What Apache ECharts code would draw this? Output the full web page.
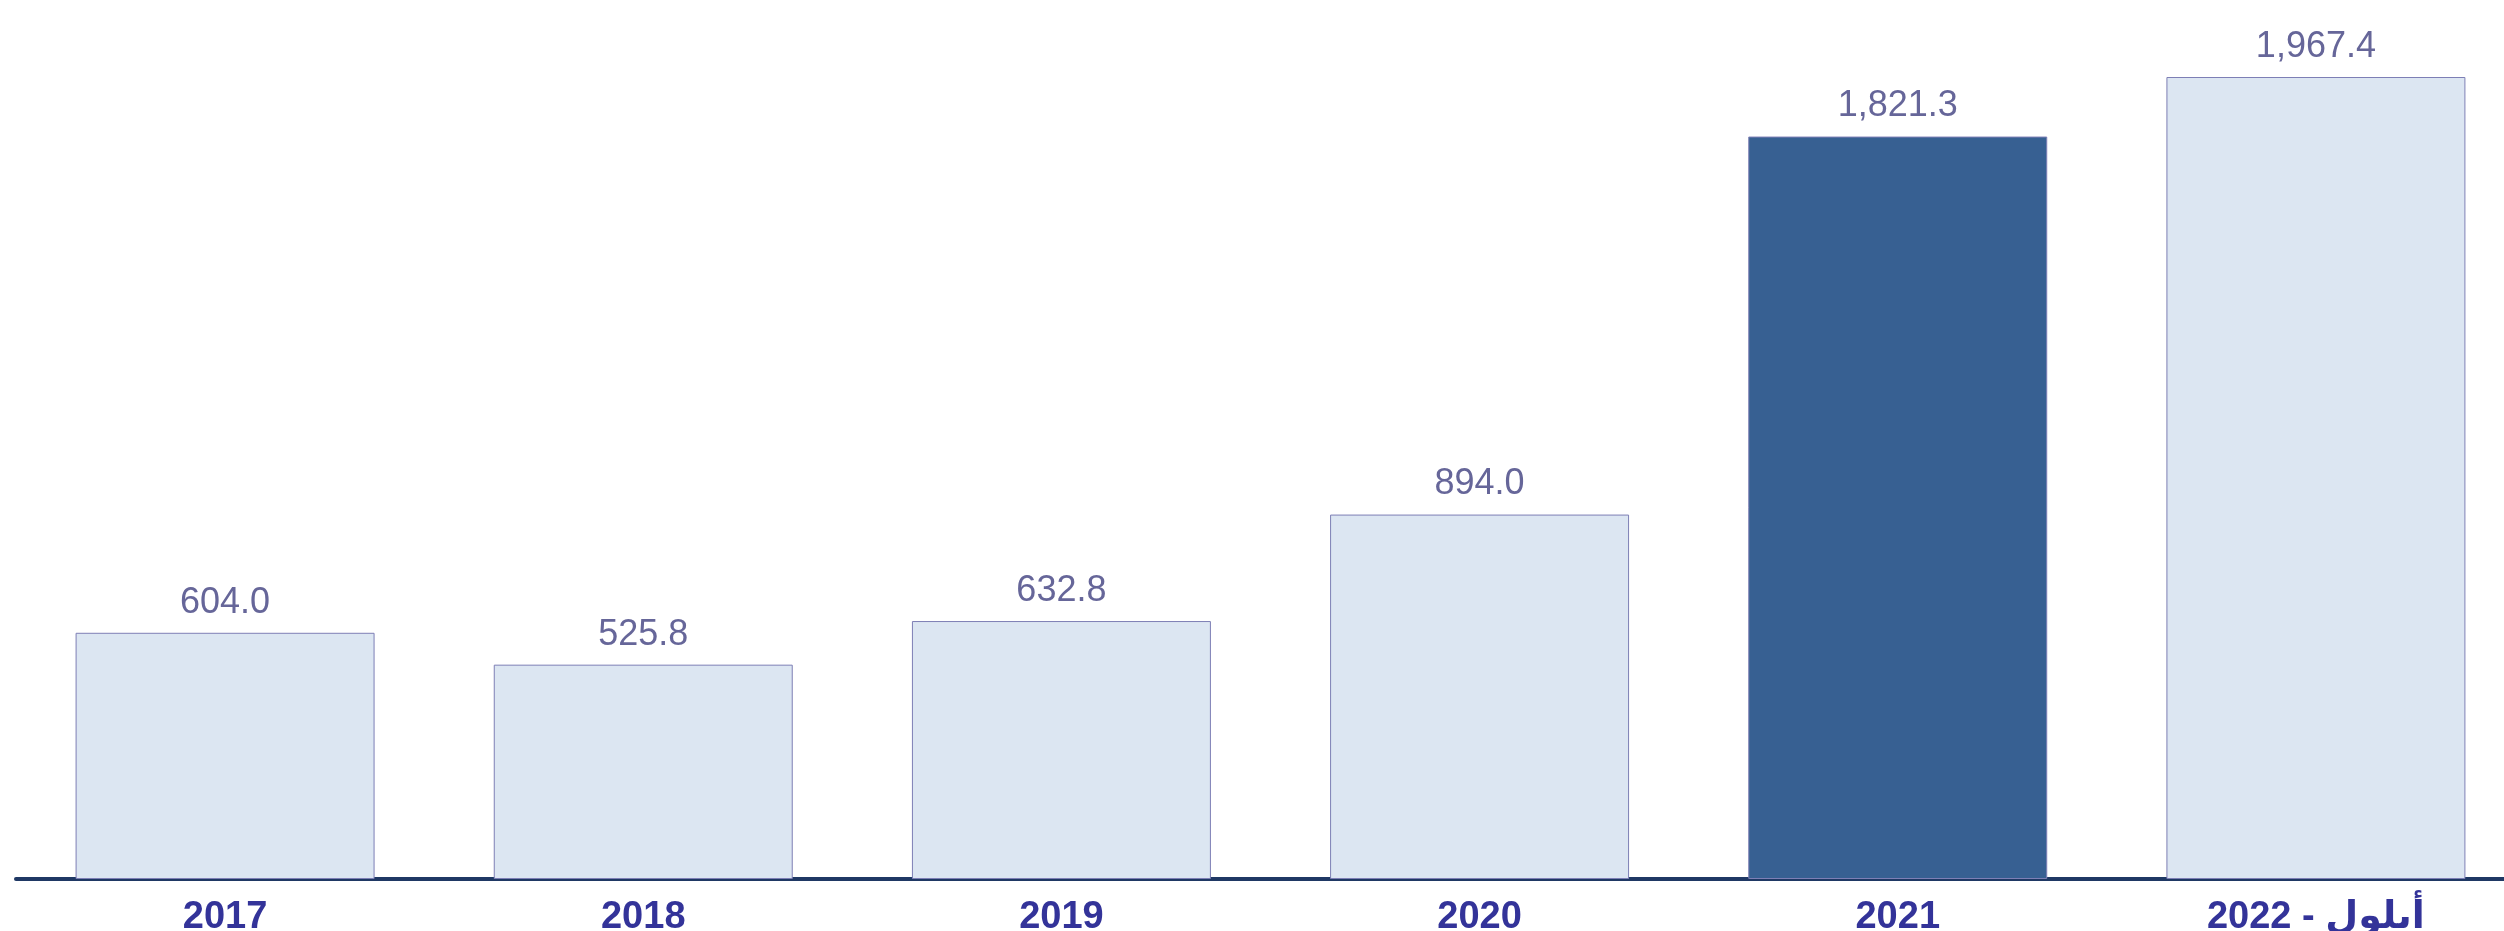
<!DOCTYPE html>
<html>
<head>
<meta charset="utf-8">
<script src="https://cdn.jsdelivr.net/npm/echarts@6/dist/echarts.min.js"></script>
<style>
  html, body { margin: 0; padding: 0; background: #ffffff; }
  #chart { width: 2504px; height: 931px; }
</style>
</head>
<body>
<div id="chart"></div>
<script>
  // Chart data
  const categories = ['2017', '2018', '2019', '2020', '2021', 'أيلول - 2022']
  const values = [604.0, 525.8, 632.8, 894.0, 1821.3, 1967.4]
  const highlightIndex = 4

  const fmtNumber = (n) => n.toLocaleString('en-US', { minimumFractionDigits: 1, maximumFractionDigits: 1 })

  const chart = echarts.init(document.getElementById('chart'), null, { renderer: 'canvas' })

  const option = {
    animation: false,
    backgroundColor: '#ffffff',
    // the last band runs a bit past the right edge in the original
    grid: { left: 16, top: 77, width: 2509, height: 802, containLabel: false, outerBoundsMode: 'none' },
    xAxis: {
      type: 'category',
      data: categories,
      axisLine: { show: true, lineStyle: { color: '#1f3864', width: 4 } },
      axisTick: { show: false },
      axisLabel: {
        color: '#333399',
        fontFamily: 'Liberation Sans, Arial, DejaVu Sans, sans-serif',
        fontWeight: 'bold',
        fontSize: 38,
        margin: 20
      },
      splitLine: { show: false }
    },
    yAxis: {
      type: 'value',
      min: 0,
      max: Math.max(...values),
      show: false,
      splitLine: { show: false }
    },
    series: [{
      type: 'bar',
      barWidth: '71.5%',
      data: values.map((v, i) => ({
        value: v,
        itemStyle: {
          color: i === highlightIndex ? '#376092' : '#dce6f2',
          borderColor: '#7d7fb5',
          borderWidth: 1
        }
      })),
      label: {
        show: true,
        position: 'top',
        distance: 12,
        color: '#666699',
        fontFamily: 'Liberation Sans, Arial, sans-serif',
        fontSize: 36,
        formatter: (p) => fmtNumber(p.value)
      }
    }]
  }

  chart.setOption(option)
</script>
</body>
</html>
